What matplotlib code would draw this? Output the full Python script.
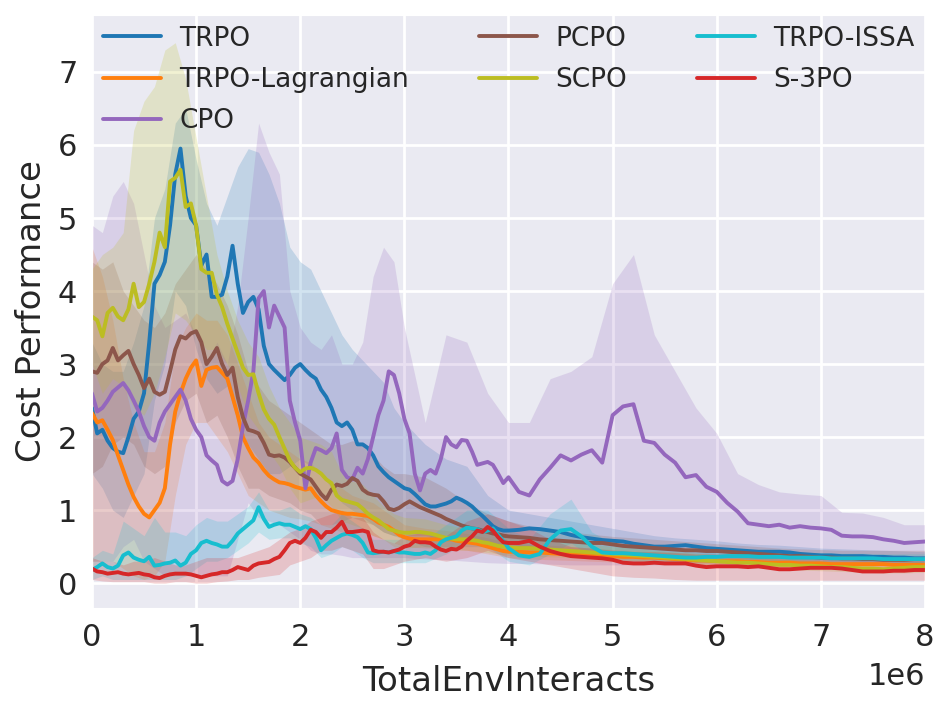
import numpy as np
import matplotlib
matplotlib.use("Agg")
import matplotlib.pyplot as plt
import seaborn as sns

# x positions (in units of 1e6 interactions)
x_line = np.r_[np.arange(80) * 0.05, 4 + np.arange(41) * 0.1]
x_band = np.r_[np.arange(30) * 0.1, 3 + np.arange(26) * 0.2]

names = ["TRPO", "TRPO-Lagrangian", "CPO", "PCPO", "SCPO", "TRPO-ISSA", "S-3PO"]
colors = ["#1f77b4", "#ff7f0e", "#9467bd", "#8c564b", "#bcbd22", "#17becf", "#d62728"]

trpo = [2.40, 2.05, 2.10, 1.95, 1.85, 1.80, 1.78, 2.00, 2.25, 2.35,
        2.60, 3.30, 4.10, 4.22, 4.40, 4.90, 5.60, 5.95, 5.30, 5.00,
        4.90, 4.35, 4.50, 3.92, 3.92, 3.95, 4.20, 4.62, 4.10, 3.70,
        3.85, 3.92, 3.75, 3.25, 3.00, 2.92, 2.85, 2.78, 2.85, 2.95,
        3.00, 2.92, 2.85, 2.80, 2.65, 2.55, 2.40, 2.20, 2.15, 2.20,
        2.10, 1.90, 1.90, 1.85, 1.75, 1.60, 1.52, 1.45, 1.40, 1.35,
        1.30, 1.28, 1.22, 1.15, 1.08, 1.05, 1.05, 1.07, 1.09, 1.12,
        1.17, 1.14, 1.10, 1.05, 0.98, 0.92, 0.85, 0.78, 0.74, 0.72,
        0.72, 0.73, 0.75, 0.74, 0.72, 0.70, 0.66, 0.63, 0.61, 0.59,
        0.58, 0.57, 0.54, 0.52, 0.50, 0.50, 0.51, 0.52, 0.50, 0.48,
        0.47, 0.46, 0.45, 0.44, 0.43, 0.43, 0.43, 0.42, 0.40, 0.39,
        0.38, 0.38, 0.37, 0.37, 0.37, 0.36, 0.36, 0.35, 0.35, 0.34,
        0.34]
trpo_lag = [2.33, 2.20, 2.23, 2.10, 1.96, 1.75, 1.55, 1.35, 1.18, 1.05,
            0.95, 0.90, 1.00, 1.10, 1.30, 1.90, 2.35, 2.60, 2.80, 2.95,
            3.05, 2.70, 2.92, 2.95, 2.96, 2.88, 2.80, 2.55, 2.30, 2.00,
            1.85, 1.72, 1.65, 1.55, 1.47, 1.42, 1.38, 1.37, 1.35, 1.32,
            1.30, 1.28, 1.30, 1.20, 1.12, 1.05, 1.00, 0.98, 0.96, 0.95,
            0.95, 0.94, 0.93, 0.92, 0.88, 0.83, 0.80, 0.77, 0.72, 0.66,
            0.63, 0.61, 0.60, 0.60, 0.60, 0.60, 0.60, 0.60, 0.60, 0.60,
            0.58, 0.57, 0.56, 0.55, 0.54, 0.52, 0.50, 0.48, 0.46, 0.44,
            0.43, 0.43, 0.42, 0.42, 0.41, 0.40, 0.40, 0.39, 0.38, 0.37,
            0.37, 0.36, 0.36, 0.35, 0.35, 0.34, 0.33, 0.32, 0.31, 0.31,
            0.30, 0.30, 0.30, 0.29, 0.29, 0.28, 0.28, 0.28, 0.27, 0.27,
            0.27, 0.26, 0.26, 0.26, 0.26, 0.26, 0.26, 0.25, 0.25, 0.25,
            0.25]
cpo = [2.60, 2.35, 2.40, 2.50, 2.62, 2.68, 2.74, 2.64, 2.50, 2.35,
       2.15, 2.00, 1.95, 2.20, 2.35, 2.45, 2.55, 2.65, 2.50, 2.25,
       2.10, 2.00, 1.75, 1.68, 1.62, 1.40, 1.35, 1.40, 1.70, 2.15,
       2.50, 2.90, 3.90, 4.00, 3.50, 3.80, 3.65, 3.50, 2.50, 2.20,
       1.95, 1.30, 1.65, 1.85, 1.82, 1.78, 1.85, 2.05, 1.55, 1.45,
       1.42, 1.58, 1.50, 1.70, 2.00, 2.30, 2.50, 2.90, 2.85, 2.60,
       2.25, 2.05, 1.50, 1.27, 1.50, 1.55, 1.50, 1.70, 2.00, 1.90,
       1.86, 1.96, 1.95, 1.80, 1.62, 1.64, 1.66, 1.62, 1.50, 1.37,
       1.45, 1.25, 1.20, 1.42, 1.58, 1.75, 1.68, 1.76, 1.82, 1.65,
       2.30, 2.42, 2.45, 1.95, 1.92, 1.76, 1.65, 1.45, 1.48, 1.32,
       1.25, 1.10, 0.98, 0.82, 0.80, 0.78, 0.80, 0.76, 0.78, 0.76,
       0.75, 0.73, 0.65, 0.64, 0.64, 0.63, 0.60, 0.58, 0.55, 0.56,
       0.57]
pcpo = [2.90, 2.88, 3.00, 3.05, 3.22, 3.05, 3.12, 3.18, 3.00, 2.85,
        2.67, 2.80, 2.62, 2.58, 2.62, 2.90, 3.20, 3.38, 3.35, 3.42,
        3.45, 3.30, 3.00, 3.10, 3.22, 3.00, 2.85, 2.95, 2.55, 2.27,
        2.10, 2.08, 2.05, 1.92, 1.76, 1.74, 1.75, 1.72, 1.66, 1.58,
        1.50, 1.46, 1.42, 1.32, 1.22, 1.15, 1.28, 1.35, 1.33, 1.36,
        1.44, 1.40, 1.28, 1.23, 1.21, 1.20, 1.12, 1.02, 1.00, 1.03,
        1.08, 1.12, 1.08, 1.04, 1.01, 0.98, 0.95, 0.92, 0.88, 0.85,
        0.82, 0.79, 0.77, 0.75, 0.74, 0.72, 0.70, 0.68, 0.67, 0.65,
        0.64, 0.63, 0.62, 0.60, 0.59, 0.58, 0.57, 0.56, 0.55, 0.55,
        0.53, 0.51, 0.50, 0.49, 0.48, 0.47, 0.46, 0.45, 0.45, 0.44,
        0.44, 0.43, 0.42, 0.41, 0.40, 0.39, 0.38, 0.37, 0.37, 0.36,
        0.35, 0.35, 0.34, 0.34, 0.33, 0.33, 0.32, 0.32, 0.32, 0.33,
        0.33]
scpo = [3.65, 3.60, 3.38, 3.70, 3.77, 3.65, 3.60, 3.75, 4.10, 3.78,
        3.85, 4.10, 4.40, 4.80, 4.60, 5.50, 5.55, 5.66, 5.15, 5.20,
        4.90, 4.30, 4.25, 4.25, 3.95, 3.78, 3.55, 3.35, 3.15, 2.95,
        2.85, 2.86, 2.60, 2.38, 2.25, 2.17, 2.00, 1.84, 1.68, 1.58,
        1.52, 1.57, 1.58, 1.55, 1.50, 1.42, 1.37, 1.20, 1.14, 1.12,
        1.10, 1.08, 1.02, 0.95, 0.90, 0.86, 0.80, 0.74, 0.72, 0.70,
        0.69, 0.69, 0.70, 0.70, 0.69, 0.68, 0.66, 0.64, 0.62, 0.61,
        0.60, 0.60, 0.60, 0.59, 0.58, 0.56, 0.55, 0.53, 0.51, 0.50,
        0.49, 0.48, 0.48, 0.47, 0.46, 0.45, 0.44, 0.43, 0.42, 0.41,
        0.40, 0.39, 0.38, 0.37, 0.36, 0.35, 0.34, 0.33, 0.32, 0.31,
        0.30, 0.29, 0.28, 0.28, 0.27, 0.26, 0.25, 0.25, 0.24, 0.24,
        0.23, 0.22, 0.22, 0.21, 0.20, 0.20, 0.19, 0.20, 0.21, 0.22,
        0.22]
trpo_issa = [0.18, 0.22, 0.27, 0.22, 0.20, 0.24, 0.38, 0.42, 0.35, 0.32,
             0.30, 0.36, 0.24, 0.25, 0.27, 0.28, 0.31, 0.24, 0.28, 0.40,
             0.45, 0.55, 0.58, 0.55, 0.53, 0.50, 0.50, 0.58, 0.68, 0.74,
             0.80, 0.86, 1.04, 0.88, 0.77, 0.80, 0.82, 0.80, 0.80, 0.77,
             0.74, 0.78, 0.74, 0.62, 0.45, 0.52, 0.58, 0.62, 0.66, 0.68,
             0.66, 0.63, 0.55, 0.42, 0.41, 0.42, 0.43, 0.42, 0.44, 0.42,
             0.42, 0.41, 0.40, 0.40, 0.42, 0.40, 0.45, 0.56, 0.60, 0.62,
             0.64, 0.72, 0.76, 0.75, 0.74, 0.70, 0.72, 0.75, 0.66, 0.58,
             0.48, 0.38, 0.36, 0.40, 0.60, 0.72, 0.74, 0.64, 0.50, 0.42,
             0.41, 0.41, 0.40, 0.39, 0.38, 0.37, 0.36, 0.35, 0.35, 0.36,
             0.36, 0.37, 0.37, 0.37, 0.36, 0.36, 0.36, 0.35, 0.35, 0.35,
             0.35, 0.34, 0.34, 0.34, 0.34, 0.34, 0.33, 0.33, 0.33, 0.33,
             0.33]
s3po = [0.20, 0.16, 0.15, 0.13, 0.14, 0.15, 0.13, 0.12, 0.13, 0.14,
        0.12, 0.11, 0.08, 0.07, 0.10, 0.12, 0.13, 0.13, 0.13, 0.12,
        0.10, 0.08, 0.10, 0.12, 0.13, 0.15, 0.15, 0.18, 0.22, 0.20,
        0.18, 0.24, 0.27, 0.28, 0.29, 0.33, 0.36, 0.45, 0.55, 0.58,
        0.55, 0.62, 0.73, 0.70, 0.62, 0.70, 0.70, 0.76, 0.84, 0.70,
        0.70, 0.71, 0.72, 0.70, 0.45, 0.43, 0.43, 0.42, 0.44, 0.46,
        0.50, 0.52, 0.58, 0.56, 0.56, 0.55, 0.50, 0.46, 0.44, 0.47,
        0.46, 0.50, 0.58, 0.64, 0.72, 0.70, 0.77, 0.72, 0.63, 0.56,
        0.55, 0.55, 0.58, 0.50, 0.44, 0.40, 0.37, 0.36, 0.35, 0.34,
        0.32, 0.28, 0.27, 0.27, 0.28, 0.27, 0.27, 0.27, 0.24, 0.22,
        0.23, 0.23, 0.23, 0.22, 0.23, 0.21, 0.19, 0.19, 0.20, 0.21,
        0.21, 0.21, 0.20, 0.18, 0.16, 0.16, 0.16, 0.17, 0.17, 0.18,
        0.18]

# shaded bands (upper / lower)
trpo_hi = [3.3, 3.0, 2.9, 2.9, 3.3, 3.8, 5.0, 5.4, 6.3, 6.5,
           5.8, 5.2, 4.9, 5.3, 5.7, 5.95, 5.9, 5.6, 5.2, 4.6,
           4.4, 4.3, 4.0, 3.7, 3.4, 3.2, 3.05, 2.9, 2.75, 2.4,
           2.2, 1.9, 1.7, 1.6, 1.2, 1.0, 0.95, 0.9, 0.85, 0.8,
           0.75, 0.7, 0.65, 0.62, 0.6, 0.58, 0.55, 0.53, 0.52, 0.5,
           0.48, 0.47, 0.46, 0.45, 0.44, 0.43]
trpo_lo = [1.5, 1.3, 1.0, 0.9, 1.2, 1.5, 2.5, 3.0, 4.0, 3.8,
           3.2, 2.8, 2.6, 2.7, 2.2, 1.9, 1.7, 1.5, 1.5, 1.6,
           1.7, 1.6, 1.5, 1.3, 1.1, 1.0, 0.9, 0.8, 0.7, 0.65,
           0.6, 0.5, 0.5, 0.5, 0.5, 0.48, 0.48, 0.47, 0.45, 0.43,
           0.42, 0.4, 0.38, 0.38, 0.37, 0.36, 0.35, 0.34, 0.34, 0.33,
           0.32, 0.31, 0.3, 0.3, 0.29, 0.28]
lag_hi = [4.6, 4.2, 3.6, 2.8, 2.2, 1.8, 1.8, 2.2, 3.2, 3.5,
          3.7, 3.6, 3.6, 3.4, 3.0, 2.6, 2.2, 2.0, 1.9, 1.8,
          1.7, 1.65, 1.5, 1.35, 1.3, 1.2, 1.15, 1.1, 1.0, 0.9,
          0.8, 0.75, 0.72, 0.68, 0.62, 0.55, 0.53, 0.52, 0.5, 0.48,
          0.46, 0.44, 0.43, 0.41, 0.39, 0.37, 0.37, 0.36, 0.35, 0.34,
          0.34, 0.33, 0.33, 0.32, 0.32, 0.32]
lag_lo = [0.3, 0.3, 0.3, 0.2, 0.1, 0.05, 0.1, 0.3, 1.2, 1.9,
          2.2, 2.2, 2.0, 1.8, 1.5, 1.2, 1.1, 1.0, 0.95, 0.9,
          0.88, 0.85, 0.8, 0.75, 0.7, 0.7, 0.7, 0.65, 0.6, 0.55,
          0.5, 0.48, 0.48, 0.45, 0.4, 0.35, 0.33, 0.32, 0.31, 0.3,
          0.29, 0.28, 0.28, 0.27, 0.26, 0.25, 0.24, 0.23, 0.22, 0.22,
          0.21, 0.21, 0.2, 0.2, 0.19, 0.19]
cpo_hi = [4.9, 4.8, 5.3, 5.5, 5.2, 4.5, 3.8, 3.5, 3.6, 3.7,
          3.4, 3.0, 3.3, 3.0, 3.8, 5.0, 6.3, 5.9, 5.6, 4.0,
          3.5, 3.3, 3.2, 3.4, 3.0, 3.0, 3.3, 4.2, 4.6, 4.4,
          3.5, 2.2, 3.4, 3.3, 2.6, 2.2, 2.2, 2.8, 2.9, 3.1,
          4.1, 4.5, 3.4, 2.9, 2.4, 2.05, 1.5, 1.35, 1.25, 1.22,
          1.2, 0.97, 0.96, 0.9, 0.8, 0.8]
cpo_lo = [0.3, 0.3, 0.3, 0.5, 0.6, 0.3, 0.2, 0.1, 0.1, 0.1,
          0.1, 0.1, 0.1, 0.1, 0.6, 1.1, 0.9, 0.85, 0.8, 0.7,
          0.6, 0.45, 0.4, 0.4, 0.38, 0.35, 0.35, 0.35, 0.35, 0.35,
          0.35, 0.33, 0.32, 0.3, 0.28, 0.27, 0.27, 0.26, 0.25, 0.25,
          0.25, 0.25, 0.25, 0.25, 0.25, 0.25, 0.25, 0.25, 0.25, 0.25,
          0.25, 0.25, 0.25, 0.25, 0.25, 0.25]
pcpo_hi = [4.4, 4.3, 4.4, 4.0, 3.8, 3.6, 3.5, 3.7, 4.1, 4.3,
           4.5, 4.3, 4.1, 3.8, 3.4, 2.9, 2.7, 2.5, 2.4, 2.3,
           2.2, 2.1, 2.0, 1.9, 1.9, 1.95, 1.9, 1.75, 1.6, 1.5,
           1.5, 1.45, 1.3, 1.1, 0.95, 0.85, 0.78, 0.74, 0.7, 0.67,
           0.64, 0.62, 0.6, 0.58, 0.56, 0.54, 0.52, 0.5, 0.48, 0.47,
           0.46, 0.45, 0.45, 0.45, 0.45, 0.45]
pcpo_lo = [1.5, 1.6, 1.9, 2.0, 1.9, 1.6, 1.5, 1.6, 2.2, 2.5,
           2.6, 2.2, 2.3, 2.0, 1.6, 1.3, 1.3, 1.2, 1.15, 1.1,
           1.0, 0.95, 0.8, 0.8, 0.85, 0.9, 0.85, 0.8, 0.7, 0.65,
           0.65, 0.65, 0.6, 0.55, 0.5, 0.48, 0.46, 0.45, 0.44, 0.43,
           0.42, 0.4, 0.38, 0.37, 0.35, 0.34, 0.33, 0.32, 0.3, 0.29,
           0.28, 0.27, 0.26, 0.25, 0.25, 0.25]
scpo_hi = [4.3, 4.5, 4.6, 4.8, 6.2, 6.6, 6.8, 7.3, 7.4, 6.9,
           6.1, 5.3, 4.5, 4.0, 3.6, 3.3, 3.1, 2.7, 2.4, 2.2,
           2.0, 1.95, 1.9, 1.8, 1.5, 1.4, 1.35, 1.2, 1.05, 0.95,
           0.9, 0.88, 0.8, 0.75, 0.68, 0.62, 0.6, 0.58, 0.55, 0.53,
           0.5, 0.48, 0.45, 0.43, 0.41, 0.39, 0.37, 0.35, 0.33, 0.32,
           0.31, 0.3, 0.29, 0.28, 0.29, 0.3]
scpo_lo = [3.0, 2.6, 2.8, 2.7, 2.4, 2.3, 2.6, 3.1, 3.7, 3.6,
           3.4, 3.2, 3.2, 3.0, 2.7, 2.3, 2.1, 1.8, 1.6, 1.3,
           1.1, 1.15, 1.2, 1.05, 0.85, 0.8, 0.75, 0.65, 0.6, 0.5,
           0.48, 0.5, 0.45, 0.45, 0.42, 0.38, 0.37, 0.36, 0.35, 0.33,
           0.32, 0.31, 0.29, 0.27, 0.25, 0.23, 0.22, 0.21, 0.19, 0.18,
           0.17, 0.16, 0.15, 0.14, 0.14, 0.15]
issa_hi = [0.35, 0.45, 0.4, 0.85, 0.75, 0.65, 0.9, 0.7, 0.7, 0.65,
           0.8, 0.9, 0.85, 0.85, 0.95, 1.05, 1.25, 1.0, 1.0, 1.05,
           0.95, 0.9, 0.8, 0.8, 0.95, 0.85, 0.75, 0.6, 0.6, 0.6,
           0.6, 0.6, 0.8, 1.0, 1.0, 0.75, 0.6, 0.95, 1.15, 0.7,
           0.55, 0.5, 0.48, 0.46, 0.45, 0.44, 0.44, 0.43, 0.43, 0.42,
           0.42, 0.41, 0.41, 0.4, 0.4, 0.4]
issa_lo = [0.05, 0.1, 0.05, 0.05, 0.05, 0.05, 0.05, 0.05, 0.05, 0.1,
           0.2, 0.3, 0.3, 0.35, 0.45, 0.55, 0.7, 0.6, 0.62, 0.62,
           0.55, 0.5, 0.35, 0.4, 0.5, 0.45, 0.35, 0.28, 0.28, 0.28,
           0.28, 0.28, 0.4, 0.55, 0.5, 0.3, 0.25, 0.4, 0.55, 0.35,
           0.3, 0.3, 0.29, 0.28, 0.28, 0.28, 0.28, 0.28, 0.27, 0.27,
           0.27, 0.26, 0.26, 0.26, 0.26, 0.26]
s3po_hi = [0.35, 0.3, 0.3, 0.25, 0.3, 0.3, 0.35, 0.3, 0.25, 0.25,
           0.3, 0.35, 0.35, 0.35, 0.35, 0.4, 0.45, 0.5, 0.6, 0.7,
           0.75, 0.85, 0.9, 0.95, 1.0, 0.9, 0.9, 0.7, 0.6, 0.55,
           0.65, 0.7, 0.65, 0.85, 0.95, 0.85, 0.75, 0.6, 0.5, 0.48,
           0.45, 0.43, 0.43, 0.42, 0.4, 0.4, 0.4, 0.39, 0.38, 0.38,
           0.38, 0.37, 0.35, 0.35, 0.36, 0.36]
s3po_lo = [0.05, 0.03, 0.02, 0.02, 0.02, 0.02, 0.0, 0.0, 0.02, 0.02,
           0.0, 0.0, 0.02, 0.03, 0.05, 0.05, 0.08, 0.1, 0.12, 0.25,
           0.3, 0.35, 0.45, 0.45, 0.5, 0.45, 0.4, 0.2, 0.2, 0.25,
           0.3, 0.35, 0.3, 0.35, 0.45, 0.35, 0.3, 0.25, 0.2, 0.15,
           0.1, 0.08, 0.07, 0.05, 0.04, 0.04, 0.04, 0.04, 0.04, 0.04,
           0.04, 0.04, 0.04, 0.04, 0.04, 0.04]

means = [trpo, trpo_lag, cpo, pcpo, scpo, trpo_issa, s3po]
uppers = [trpo_hi, lag_hi, cpo_hi, pcpo_hi, scpo_hi, issa_hi, s3po_hi]
lowers = [trpo_lo, lag_lo, cpo_lo, pcpo_lo, scpo_lo, issa_lo, s3po_lo]

sns.set_style("darkgrid")
plt.rcParams['font.family'] = ['DejaVu Sans']

fig = plt.figure(figsize=(9.51, 7.10), dpi=100)
ax = fig.add_axes([0.0967, 0.1437, 0.876, 0.8352])

for name, c, m, hi, lo in zip(names, colors, means, uppers, lowers):
    ax.fill_between(x_band * 1e6, lo, hi, color=c, alpha=0.2, linewidth=0)
    ax.plot(x_line * 1e6, m, color=c, lw=2.8, label=name)

ax.grid(True, color="white", linewidth=2.0)
ax.set_xlim(0, 8e6)
ax.set_ylim(-0.34, 7.78)
ax.set_yticks(range(8))
ax.tick_params(labelsize=22, colors="#262626", pad=7)
ax.xaxis.get_offset_text().set_visible(False)
ax.text(1.0, -0.116, "1e6", transform=ax.transAxes, ha="right", va="center",
        fontsize=22, color="#262626")
ax.set_xlabel("TotalEnvInteracts", fontsize=24.5, color="#262626", labelpad=10)
ax.set_ylabel("Cost Performance", fontsize=24.5, color="#262626", labelpad=7)

ax.legend(loc="upper left", bbox_to_anchor=(0, 0, 1, 1), mode="expand", ncol=3,
          fontsize=19, frameon=False, handlelength=2.2, labelspacing=0.58,
          borderaxespad=0.0, handletextpad=0.7)

fig.savefig("out.png", dpi=100)
